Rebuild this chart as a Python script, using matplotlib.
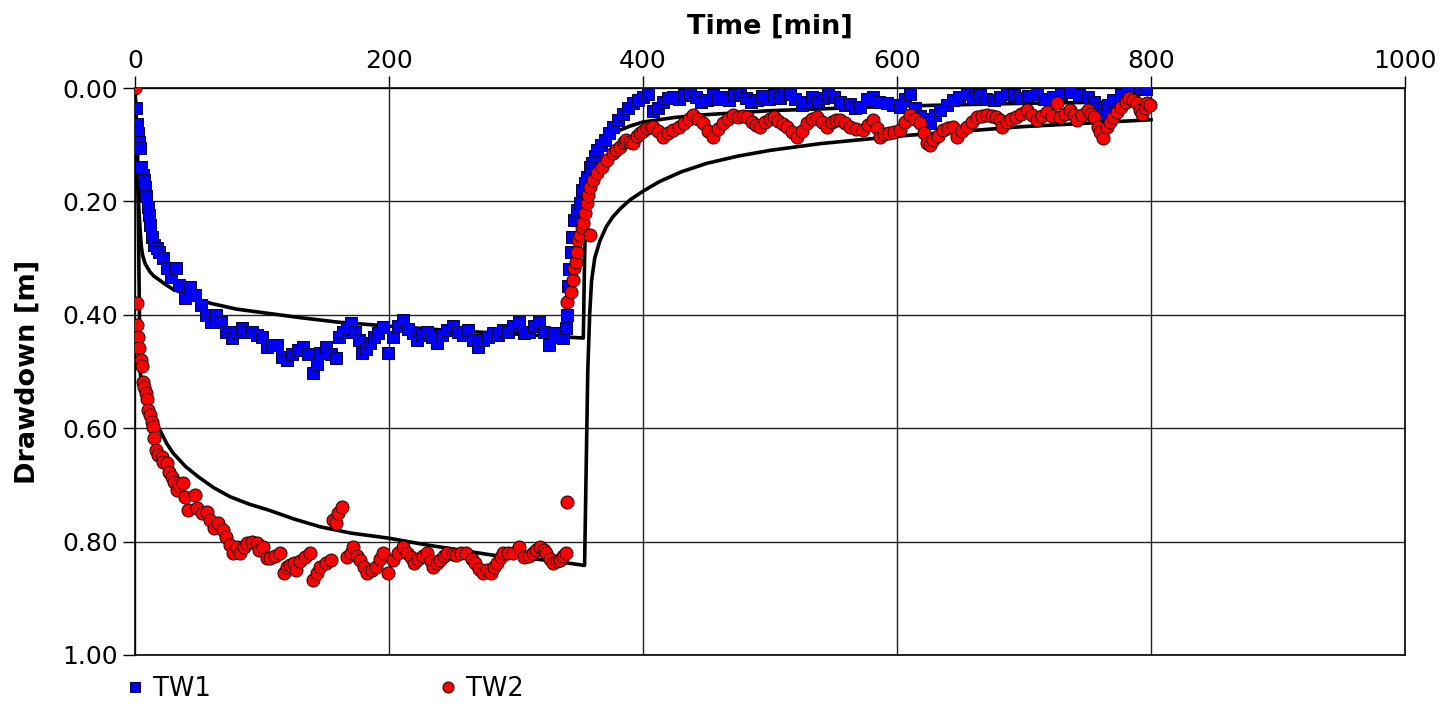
# Drawdown vs time plot for two test wells (TW1, TW2) with model curves
import matplotlib.pyplot as plt
from matplotlib.ticker import FormatStrFormatter

tw1_time = [1, 1.5, 2, 3, 4, 5, 6, 7, 8, 9, 10, 11, 12, 13, 15, 17, 19, 22, 25, 28, 32, 35, 39, 43, 47, 52, 56,
            60, 64, 68, 72, 76, 80, 84, 88, 92, 96, 100, 104, 108, 112, 116, 120, 124, 128, 132, 136, 140, 143,
            146, 150, 154, 158, 161, 164, 167, 170, 173, 176, 179, 182, 185, 188, 191, 195, 199, 203, 207, 211,
            215, 219, 222, 226, 230, 234, 238, 242, 246, 250, 254, 258, 262, 266, 270, 274, 278, 282, 286, 290,
            294, 298, 302, 306, 310, 314, 318, 322, 326, 330, 334, 337, 339, 340, 341, 342, 343, 344, 346, 348,
            350, 352, 354, 356, 358, 360, 362, 364, 367, 370, 373, 376, 380, 384, 388, 392, 396, 400, 404, 408,
            412, 416, 420, 424, 428, 432, 437, 442, 446, 450, 455, 459, 463, 468, 472, 476, 481, 485, 490, 494,
            499, 503, 508, 512, 516, 520, 525, 529, 533, 538, 542, 546, 550, 555, 559, 563, 567, 571, 576, 581,
            586, 592, 597, 602, 606, 610, 614, 618, 622, 626, 630, 634, 639, 644, 649, 655, 660, 665, 670, 676,
            681, 687, 692, 697, 703, 710, 716, 723, 729, 736, 743, 750, 755, 759, 762, 766, 770, 776, 781, 786,
            791, 796]
tw1_drawdown = [0.035, 0.063, 0.08, 0.095, 0.106, 0.14, 0.153, 0.162, 0.175, 0.19, 0.21, 0.224, 0.242, 0.263,
                0.277, 0.282, 0.29, 0.30, 0.317, 0.333, 0.317, 0.348, 0.37, 0.351, 0.365, 0.383, 0.40, 0.413,
                0.40, 0.413, 0.43, 0.441, 0.43, 0.423, 0.43, 0.43, 0.436, 0.44, 0.457, 0.453, 0.453, 0.474,
                0.48, 0.47, 0.462, 0.456, 0.47, 0.503, 0.487, 0.467, 0.456, 0.47, 0.477, 0.439, 0.43, 0.423,
                0.415, 0.43, 0.445, 0.467, 0.46, 0.45, 0.44, 0.432, 0.421, 0.467, 0.439, 0.42, 0.409, 0.425,
                0.432, 0.444, 0.435, 0.43, 0.44, 0.45, 0.435, 0.427, 0.42, 0.43, 0.435, 0.427, 0.445, 0.456,
                0.444, 0.44, 0.432, 0.435, 0.427, 0.43, 0.42, 0.412, 0.432, 0.43, 0.42, 0.412, 0.43, 0.453,
                0.432, 0.44, 0.441, 0.423, 0.40, 0.35, 0.32, 0.29, 0.262, 0.233, 0.215, 0.203, 0.18, 0.168,
                0.157, 0.14, 0.133, 0.12, 0.11, 0.10, 0.092, 0.08, 0.068, 0.057, 0.045, 0.035, 0.027, 0.021,
                0.015, 0.01, 0.04, 0.035, 0.025, 0.018, 0.015, 0.02, 0.012, 0.01, 0.016, 0.025, 0.021, 0.012,
                0.02, 0.015, 0.022, 0.012, 0.01, 0.018, 0.025, 0.021, 0.014, 0.02, 0.012, 0.018, 0.01, 0.01,
                0.02, 0.03, 0.024, 0.015, 0.025, 0.018, 0.01, 0.015, 0.024, 0.03, 0.028, 0.036, 0.033, 0.02,
                0.015, 0.025, 0.027, 0.03, 0.033, 0.02, 0.01, 0.035, 0.05, 0.055, 0.062, 0.048, 0.039, 0.03,
                0.021, 0.015, 0.01, 0.018, 0.012, 0.02, 0.021, 0.015, 0.01, 0.012, 0.018, 0.014, 0.01, 0.02,
                0.015, 0.01, 0.007, 0.012, 0.015, 0.025, 0.035, 0.045, 0.03, 0.021, 0.012, 0.004, 0.006, 0.0,
                0.002]

tw2_time = [0, 1.5, 1.8, 2.4, 3.1, 4.5, 5.5, 6.3, 7, 8.6, 9.6, 10.5, 11.5, 13, 14, 15, 16.5, 18, 21, 22, 25, 27,
            29, 31, 33, 35, 38, 39, 42, 47, 49, 53, 57, 59, 62, 65, 69, 72, 75, 77, 80, 83, 86, 88, 92, 96, 98,
            101, 104, 106, 110, 114, 117, 120, 122, 125, 127, 130, 134, 138, 140, 143, 146, 150, 154, 156, 158,
            160, 163, 167, 170, 172, 175, 177, 180, 183, 187, 190, 193, 195, 199, 203, 207, 211, 214, 217, 220,
            223, 227, 230, 233, 235, 238, 240, 243, 246, 250, 253, 257, 261, 265, 268, 271, 274, 277, 280, 283,
            285, 288, 290, 294, 298, 302, 306, 310, 313, 316, 319, 322, 324, 327, 329, 332, 335, 337, 339, 340,
            340.5, 343, 345, 346, 347, 348, 349, 350, 352, 353, 354, 356, 357, 358, 358.5, 361, 364, 368, 372,
            376, 379, 382, 385, 387, 390, 392, 395, 398, 400, 403, 406, 408, 412, 416, 420, 424, 428, 432, 436,
            439, 443, 447, 451, 455, 459, 463, 467, 471, 475, 479, 482, 486, 489, 492, 496, 500, 503, 506, 510,
            513, 517, 521, 525, 529, 533, 537, 541, 545, 549, 552, 555, 559, 563, 568, 573, 577, 581, 584, 587,
            590, 594, 598, 602, 606, 610, 614, 618, 621, 624, 626, 628, 632, 636, 640, 644, 647, 651, 655, 659,
            663, 667, 671, 675, 678, 681, 683, 687, 690, 694, 698, 702, 706, 710, 714, 718, 722, 726, 728, 732,
            736, 739, 742, 746, 750, 753, 755, 758, 760, 762, 765, 768, 770, 773, 776, 780, 783, 786, 789, 791,
            793, 795, 797, 799]
tw2_drawdown = [0.0, 0.38, 0.418, 0.439, 0.459, 0.48, 0.49, 0.518, 0.527, 0.538, 0.549, 0.568, 0.577, 0.589,
                0.598, 0.617, 0.638, 0.647, 0.65, 0.66, 0.662, 0.677, 0.686, 0.695, 0.709, 0.70, 0.697, 0.721,
                0.744, 0.718, 0.741, 0.75, 0.747, 0.762, 0.776, 0.767, 0.78, 0.792, 0.806, 0.82, 0.81, 0.82,
                0.81, 0.802, 0.80, 0.802, 0.815, 0.81, 0.829, 0.829, 0.825, 0.82, 0.855, 0.845, 0.841, 0.838,
                0.85, 0.835, 0.828, 0.82, 0.868, 0.855, 0.845, 0.838, 0.832, 0.762, 0.767, 0.75, 0.739, 0.827,
                0.82, 0.81, 0.825, 0.832, 0.845, 0.855, 0.85, 0.845, 0.83, 0.82, 0.855, 0.832, 0.82, 0.81,
                0.82, 0.827, 0.838, 0.83, 0.825, 0.82, 0.835, 0.845, 0.838, 0.832, 0.826, 0.82, 0.822, 0.824,
                0.82, 0.82, 0.83, 0.838, 0.848, 0.855, 0.85, 0.855, 0.845, 0.838, 0.828, 0.82, 0.82, 0.82,
                0.81, 0.827, 0.825, 0.82, 0.815, 0.81, 0.815, 0.82, 0.83, 0.838, 0.835, 0.832, 0.825, 0.82,
                0.73, 0.377, 0.36, 0.339, 0.317, 0.307, 0.289, 0.268, 0.259, 0.245, 0.238, 0.22, 0.203, 0.189,
                0.175, 0.259, 0.162, 0.15, 0.139, 0.127, 0.115, 0.11, 0.104, 0.095, 0.092, 0.095, 0.097, 0.085,
                0.08, 0.075, 0.071, 0.069, 0.069, 0.075, 0.086, 0.08, 0.074, 0.068, 0.062, 0.055, 0.048, 0.055,
                0.062, 0.075, 0.086, 0.072, 0.062, 0.055, 0.048, 0.052, 0.05, 0.051, 0.06, 0.065, 0.069, 0.06,
                0.055, 0.051, 0.058, 0.064, 0.069, 0.078, 0.086, 0.075, 0.062, 0.055, 0.051, 0.06, 0.069, 0.06,
                0.056, 0.056, 0.062, 0.069, 0.072, 0.074, 0.065, 0.056, 0.07, 0.086, 0.082, 0.079, 0.078, 0.074,
                0.06, 0.048, 0.055, 0.062, 0.079, 0.097, 0.10, 0.092, 0.085, 0.074, 0.07, 0.069, 0.086, 0.075,
                0.069, 0.06, 0.051, 0.05, 0.048, 0.05, 0.052, 0.056, 0.069, 0.06, 0.055, 0.051, 0.045, 0.039,
                0.048, 0.056, 0.05, 0.042, 0.05, 0.027, 0.051, 0.045, 0.039, 0.048, 0.056, 0.048, 0.039, 0.045,
                0.051, 0.069, 0.078, 0.089, 0.069, 0.06, 0.051, 0.042, 0.033, 0.025, 0.018, 0.022, 0.027, 0.038,
                0.045, 0.035, 0.027, 0.03]

# model curves (black lines)
model1_time = [0, 1, 2, 3, 4, 5, 6, 8, 12, 15, 20, 25, 30, 38, 45, 60, 80, 100, 130, 160, 200, 250, 300, 353,
               354, 355, 356, 358, 360, 365, 370, 380, 390, 400, 425, 450, 500, 550, 600, 700, 800]
model1_drawdown = [0, 0.10, 0.16, 0.21, 0.25, 0.28, 0.295, 0.31, 0.325, 0.332, 0.34, 0.348, 0.355, 0.362, 0.37,
                   0.38, 0.39, 0.396, 0.405, 0.413, 0.42, 0.428, 0.434, 0.441, 0.30, 0.21, 0.165, 0.14, 0.125,
                   0.105, 0.092, 0.076, 0.067, 0.06, 0.052, 0.047, 0.04, 0.036, 0.032, 0.027, 0.024]
model2_time = [0, 2, 3, 4, 6, 8, 10, 13, 16, 20, 25, 30, 40, 50, 62, 75, 90, 106, 125, 146, 170, 200, 230, 256,
               282, 309, 335, 354, 356.5, 358, 359.5, 362, 366, 371, 376, 382, 390, 400, 413, 430, 450, 475, 500,
               540, 600, 700, 800]
model2_drawdown = [0, 0.10, 0.30, 0.50, 0.535, 0.555, 0.568, 0.582, 0.592, 0.605, 0.627, 0.644, 0.668, 0.686,
                   0.705, 0.721, 0.734, 0.745, 0.760, 0.774, 0.785, 0.794, 0.806, 0.815, 0.824, 0.829, 0.836,
                   0.842, 0.50, 0.40, 0.34, 0.30, 0.27, 0.245, 0.228, 0.213, 0.197, 0.182, 0.165, 0.148, 0.133,
                   0.12, 0.11, 0.098, 0.085, 0.068, 0.056]

plt.rcParams['font.family'] = 'DejaVu Sans'
fig = plt.figure(figsize=(14.39, 7.09), dpi=100)
ax = fig.add_axes([135 / 1439, 54 / 709, 1270 / 1439, 567 / 709])

ax.plot(model1_time, model1_drawdown, color='black', lw=2.6, zorder=2)
ax.plot(model2_time, model2_drawdown, color='black', lw=2.6, zorder=2)
ax.plot(tw1_time, tw1_drawdown, 's', ls='none', ms=8.8, mfc='#0000ff', mec='#00003a', mew=0.7,
        label='TW1', zorder=3)
ax.plot(tw2_time, tw2_drawdown, 'o', ls='none', ms=9.4, mfc='#ff0000', mec='#1a0000', mew=0.7,
        label='TW2', zorder=4)

ax.set_xlim(0, 1000)
ax.set_ylim(1.0, 0.0)
ax.set_xticks([0, 200, 400, 600, 800, 1000])
ax.set_yticks([0.0, 0.2, 0.4, 0.6, 0.8, 1.0])
ax.yaxis.set_major_formatter(FormatStrFormatter('%.2f'))
ax.xaxis.tick_top()
ax.xaxis.set_label_position('top')
ax.tick_params(axis='both', labelsize=18, length=9, width=1, direction='out', color='black')
ax.tick_params(axis='x', pad=2)
ax.grid(True, color='#222222', lw=1)
ax.set_axisbelow(True)
for s in ax.spines.values():
    s.set_linewidth(1.2)
    s.set_color('black')

ax.set_xlabel('Time [min]', fontsize=19.5, fontweight='bold', labelpad=11)
ax.set_ylabel('Drawdown [m]', fontsize=19.5, fontweight='bold', labelpad=15)

fig.legend(loc='lower left', bbox_to_anchor=(113 / 1439, -0.008), ncol=2, frameon=False, fontsize=18.5,
           handlelength=0.7, handletextpad=0.35, columnspacing=8.9, markerscale=0.85, borderpad=0)

plt.savefig('out.png', dpi=100)
plt.close()
